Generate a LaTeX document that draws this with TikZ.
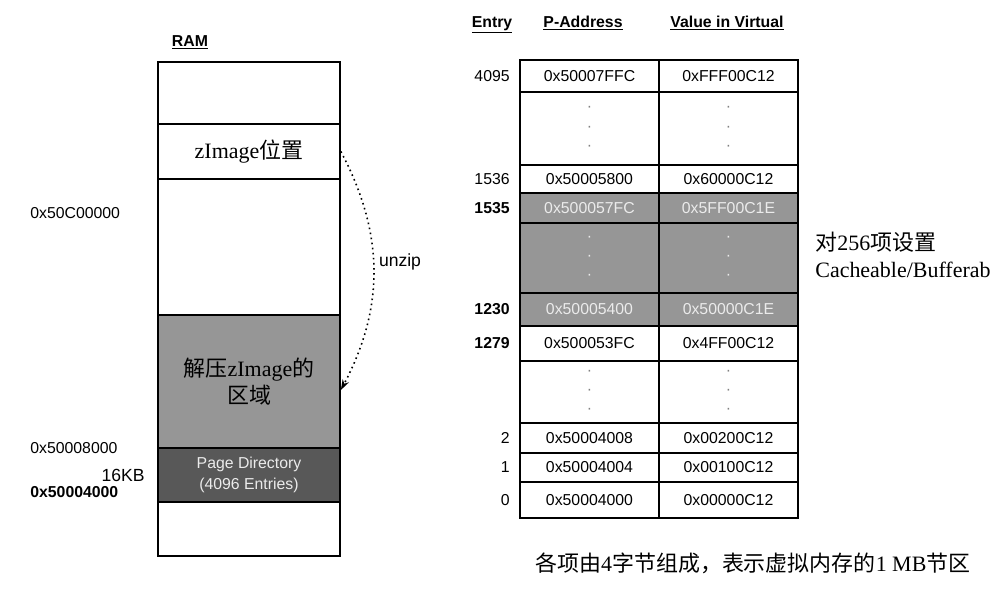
\documentclass[tikz,border=0pt]{standalone}
\usepackage{fontspec}
\setmainfont{Liberation Serif}
\setsansfont{Liberation Sans}
\newfontfamily\cjk{Noto Sans CJK SC}
\usepackage{tikz}
\usetikzlibrary{positioning, arrows.meta}
\definecolor{shade}{RGB}{150,150,150}
\definecolor{pagedir}{RGB}{88,88,88}
\definecolor{paletext}{RGB}{235,235,235}
\newcommand{\zh}[1]{{\cjk #1}}
\newcommand{\celldots}{\textperiodcentered\\[1pt]\textperiodcentered\\[1pt]\textperiodcentered}
\tikzset{
  ramrow/.style={
    draw, line width=1pt, minimum width=3.64cm, inner sep=0pt,
    font=\fontsize{12.5}{15}\selectfont, align=center
  },
  cell/.style={
    draw, line width=1pt, minimum width=2.78cm, inner sep=0pt,
    font=\sffamily\fontsize{9}{10}\selectfont, align=center
  },
  addr/.style={inner sep=0pt, font=\sffamily\fontsize{9}{10}\selectfont},
  colhead/.style={anchor=base, font=\sffamily\bfseries\fontsize{9}{10}\selectfont},
  note/.style={inner sep=0pt, font=\fontsize{12.5}{15}\selectfont, align=left},
}

\begin{document}
\begin{tikzpicture}[x=0.02cm, y=-0.02cm]
  \useasboundingbox (0,0) rectangle (994,593);

  % RAM column
  \node[colhead] (ramhead) at (190,46) {\underline{RAM}};
  \node[ramrow, minimum height=1.24cm] (ramtop) at (249,93) {};
  \node[ramrow, minimum height=1.10cm] (zimg) at (249,151.5) {zImage\zh{位置}};
  \node[ramrow, minimum height=2.72cm] (ramfree) at (249,247) {};
  \node[ramrow, minimum height=2.66cm, fill=shade] (unzipped) at (249,381.5)
    {\zh{解压}zImage\zh{的}\\\zh{区域}};
  \node[ramrow, minimum height=1.08cm, fill=pagedir, text=paletext,
    font=\sffamily\fontsize{9}{12}\selectfont] (pgdir) at (249,475)
    {Page Directory\\(4096 Entries)};
  \node[ramrow, minimum height=1.08cm] (rambot) at (249,529) {};

  % addresses on the left
  \node[addr, anchor=west] (a50c) at (30,213) {0x50C00000};
  \node[addr, anchor=west] (a508) at (30,448) {0x50008000};
  \node[addr, anchor=east, font=\sffamily\fontsize{10}{12}\selectfont] (size) at (145,475) {16KB};
  \node[addr, anchor=west, font=\sffamily\bfseries\fontsize{9}{10}\selectfont] (a504) at (30,492) {0x50004000};

  % unzip arrow
  \draw[dotted, line width=0.9pt, -{Stealth[length=6pt,width=4pt]}]
    (zimg.east) to[bend left=28] ([yshift=-0.17cm]unzipped.east);
  \node[addr, font=\sffamily\fontsize{10}{12}\selectfont] (unziplbl) at (400,262) {unzip};

  % table header
  \node[colhead] (hentry) at (492,27) {\underline{Entry}};
  \node[colhead] (hpa) at (583,27) {\underline{P-Address}};
  \node[colhead] (hva) at (727,27) {\underline{Value in Virtual}};

  % table rows with values
  \foreach \y/\h/\n/\pa/\va/\fc/\tc [count=\i] in {
      76/32/4095/0x50007FFC/0xFFF00C12/white/black,
      179/28/1536/0x50005800/0x60000C12/white/black,
      208/30/{\bfseries 1535}/0x500057FC/0x5FF00C1E/shade/paletext,
      309.5/33/{\bfseries 1230}/0x50005400/0x50000C1E/shade/paletext,
      343.5/35/{\bfseries 1279}/0x500053FC/0x4FF00C12/white/black,
      438/30/2/0x50004008/0x00200C12/white/black,
      467.5/29/1/0x50004004/0x00100C12/white/black,
      500/36/0/0x50004000/0x00000C12/white/black} {
    \node[cell, minimum height=\h*0.02cm, fill=\fc, text=\tc] (pa\i) at (589.5,\y) {\pa};
    \node[cell, minimum height=\h*0.02cm, fill=\fc, text=\tc] (va\i) at (728.5,\y) {\va};
    \node[addr, anchor=east] (entry\i) at (510,\y) {\n};
  }

  % rows with skipped entries
  \foreach \y/\h/\fc/\tc [count=\i] in {
      128.5/73/white/gray, 258/70/shade/paletext, 392/62/white/gray} {
    \node[cell, minimum height=\h*0.02cm, fill=\fc, text=\tc] (pskip\i) at (589.5,\y) {\celldots};
    \node[cell, minimum height=\h*0.02cm, fill=\fc, text=\tc] (vskip\i) at (728.5,\y) {\celldots};
  }

  % notes
  \node[note, anchor=west] (cachenote) at (815,255)
    {\zh{对}256\zh{项设置}\\Cacheable/Bufferab};
  \node[note, anchor=west] (caption) at (535,563)
    {\zh{各项由}4\zh{字节组成，表示虚拟内存的}1 MB\zh{节区}};
\end{tikzpicture}
\end{document}
